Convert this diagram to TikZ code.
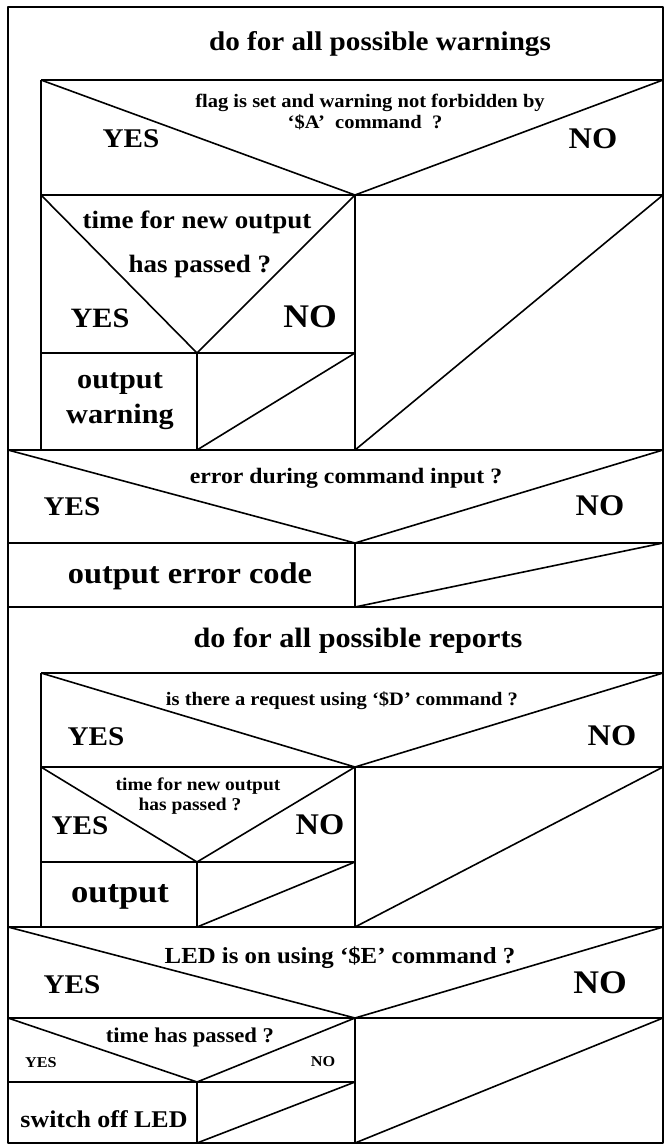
\documentclass[tikz,border=0pt]{standalone}
\usepackage{fontspec}
\setmainfont{Liberation Serif}[FakeStretch=1.08]

\begin{document}
\begin{tikzpicture}[x=1pt, y=-1pt, line width=1.6pt, line join=round,
    lbl/.style={anchor=base, inner sep=0pt, font=\fontsize{#1}{#1}\selectfont\bfseries}]
    \useasboundingbox (0,0) rectangle (664,1146);

    % 枠
    \draw (8,7) rectangle (663,1143);

    % 横線
    \draw (41,80) -- (663,80);
    \draw (41,195) -- (663,195);
    \draw (41,353) -- (355,353);
    \draw (8,450) -- (663,450);
    \draw (8,543) -- (663,543);
    \draw (8,607) -- (663,607);
    \draw (41,673) -- (663,673);
    \draw (41,767) -- (663,767);
    \draw (41,862) -- (355,862);
    \draw (8,927) -- (663,927);
    \draw (8,1018) -- (663,1018);
    \draw (8,1082) -- (355,1082);

    % 縦線
    \draw (41,80) -- (41,450);
    \draw (41,673) -- (41,927);
    \draw (355,195) -- (355,450);
    \draw (355,543) -- (355,607);
    \draw (355,767) -- (355,927);
    \draw (355,1018) -- (355,1143);
    \draw (197,353) -- (197,450);
    \draw (197,862) -- (197,927);
    \draw (197,1082) -- (197,1143);

    % 分岐
    \draw (41,80) -- (355,195) -- (663,80);
    \draw (41,195) -- (197,353) -- (355,195);
    \draw (8,450) -- (355,543) -- (663,450);
    \draw (41,673) -- (355,767) -- (663,673);
    \draw (41,767) -- (197,862) -- (355,767);
    \draw (8,927) -- (355,1018) -- (663,927);
    \draw (8,1018) -- (197,1082) -- (355,1018);

    % 空の枝
    \draw (197,450) -- (355,353);
    \draw (355,450) -- (663,195);
    \draw (355,607) -- (663,543);
    \draw (197,927) -- (355,862);
    \draw (355,927) -- (663,767);
    \draw (197,1143) -- (355,1082);
    \draw (355,1143) -- (663,1018);

    % テキスト
    \node[lbl=27] (loopA) at (380,50) {do for all possible warnings};
    \node[lbl=19] (qA1) at (370,107) {flag is set and warning not forbidden by};
    \node[lbl=19] (qA2) at (365,128) {`\$A'\ \ command\ \ ?};
    \node[lbl=27] (yA) at (131,147) {YES};
    \node[lbl=30] (nA) at (593,148) {NO};

    \node[lbl=25] (qB1) at (197,228) {time for new output};
    \node[lbl=25] (qB2) at (200,272) {has passed ?};
    \node[lbl=28] (yB) at (100,327) {YES};
    \node[lbl=33] (nB) at (310,327) {NO};
    \node[lbl=28] (outW1) at (120,388) {output};
    \node[lbl=28] (outW2) at (120,423) {warning};

    \node[lbl=22] (qC) at (346,483) {error during command input ?};
    \node[lbl=27] (yC) at (72,515) {YES};
    \node[lbl=30] (nC) at (600,515) {NO};
    \node[lbl=30] (errOut) at (190,583) {output error code};

    \node[lbl=28] (loopB) at (358,647) {do for all possible reports};
    \node[lbl=19] (qD) at (342,705) {is there a request using `\$D' command ?};
    \node[lbl=27] (yD) at (96,745) {YES};
    \node[lbl=30] (nD) at (612,745) {NO};

    \node[lbl=18] (qE1) at (198,790) {time for new output};
    \node[lbl=18] (qE2) at (190,810) {has passed ?};
    \node[lbl=27] (yE) at (80,834) {YES};
    \node[lbl=30] (nE) at (320,834) {NO};
    \node[lbl=32] (outR) at (120,902) {output};

    \node[lbl=23] (qF) at (340,963) {LED is on using `\$E' command ?};
    \node[lbl=27] (yF) at (72,993) {YES};
    \node[lbl=33] (nF) at (600,993) {NO};

    \node[lbl=21] (qG) at (190,1042) {time has passed ?};
    \node[lbl=15] (yG) at (41,1067) {YES};
    \node[lbl=15] (nG) at (323,1066) {NO};
    \node[lbl=24] (ledOff) at (104,1127) {switch off LED};
\end{tikzpicture}
\end{document}
